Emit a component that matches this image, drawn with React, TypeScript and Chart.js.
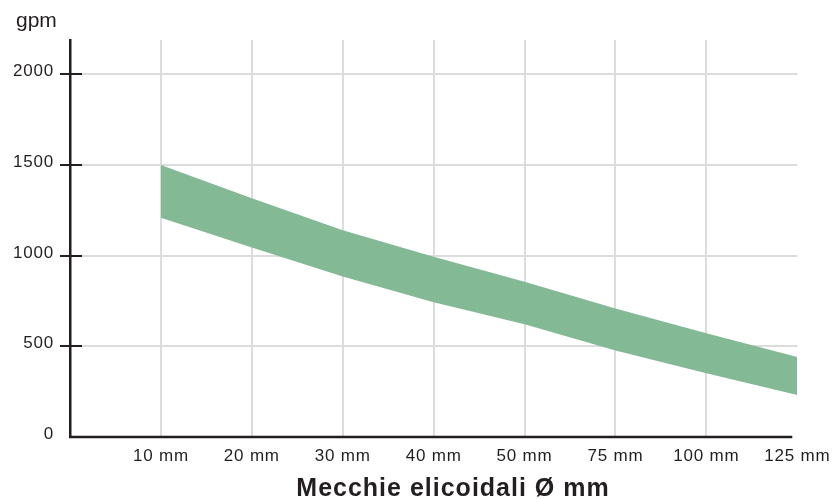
import { useEffect, useRef } from 'react';
import { Chart, registerables } from 'chart.js';

Chart.register(...registerables);

const categories = ['10 mm', '20 mm', '30 mm', '40 mm', '50 mm', '75 mm', '100 mm', '125 mm'];
const upperValues = [1500, 1317, 1141, 995, 856, 709, 573, 441];
const lowerValues = [1210, 1046, 885, 743, 622, 477, 352, 231];
const yTickValues = [0, 500, 1000, 1500, 2000];
const yAxisTitle = 'gpm';
const xAxisTitle = 'Mecchie elicoidali Ø mm';

const FONT = '"Liberation Sans", Arial, Helvetica, sans-serif';
const DARK = '#231f20';
const GRID = '#dcdcdc';
const BAND = '#83b995';

export default function App() {
  const ref = useRef<HTMLCanvasElement | null>(null);

  useEffect(() => {
    if (!ref.current) return;
    const overlay = {
      id: 'overlay',
      beforeDraw(chart: any) {
        chart.ctx.letterSpacing = '0.8px';
      },
      afterDraw(chart: any) {
        const { ctx, scales } = chart;
        const y = scales.y;
        const x = scales.x;
        ctx.save();
        // x axis line
        ctx.strokeStyle = DARK;
        ctx.lineWidth = 2.5;
        ctx.beginPath();
        ctx.moveTo(x.left - 1, y.bottom);
        ctx.lineTo(x.right - 5, y.bottom);
        ctx.stroke();
        // y tick marks crossing the axis
        ctx.lineWidth = 2;
        yTickValues.forEach((v) => {
          if (v === 0) return;
          const py = Math.round(y.getPixelForValue(v));
          ctx.beginPath();
          ctx.moveTo(x.left - 10, py);
          ctx.lineTo(x.left + 12, py);
          ctx.stroke();
        });
        // y tick labels
        ctx.fillStyle = DARK;
        ctx.letterSpacing = '0.8px';
        ctx.font = `17px ${FONT}`;
        ctx.textAlign = 'right';
        ctx.textBaseline = 'alphabetic';
        yTickValues.forEach((v) => {
          const py = y.getPixelForValue(v);
          ctx.fillText(String(v), x.left - 16, py + 2);
        });
        // titles
        ctx.letterSpacing = '0px';
        ctx.textAlign = 'left';
        ctx.font = `21px ${FONT}`;
        ctx.fillText(yAxisTitle, 16, 26.5);
        ctx.textAlign = 'center';
        ctx.letterSpacing = '1px';
        ctx.font = `bold 25px ${FONT}`;
        ctx.fillText(xAxisTitle, 453, 496);
        ctx.restore();
        ctx.letterSpacing = '0px';
      },
    };

    const chart = new Chart(ref.current, {
      type: 'line',
      data: {
        datasets: [
          {
            label: 'max',
            data: upperValues.map((v, i) => ({ x: i + 1, y: v })),
            borderColor: 'rgba(0,0,0,0)',
            borderWidth: 0,
            backgroundColor: BAND,
            pointRadius: 0,
            fill: '+1',
            tension: 0,
          },
          {
            label: 'min',
            data: lowerValues.map((v, i) => ({ x: i + 1, y: v })),
            borderColor: 'rgba(0,0,0,0)',
            borderWidth: 0,
            backgroundColor: BAND,
            pointRadius: 0,
            fill: false,
            tension: 0,
          },
        ],
      },
      options: {
        animation: false,
        responsive: true,
        maintainAspectRatio: false,
        layout: { padding: { top: 40, right: 39, bottom: 0, left: 0 } },
        plugins: { legend: { display: false }, tooltip: { enabled: false } },
        scales: {
          x: {
            type: 'linear',
            min: 0,
            max: categories.length,
            afterBuildTicks: (s: any) => {
              s.ticks = categories.map((_, i) => ({ value: i + 1 }));
            },
            afterFit: (s: any) => {
              s.height = 62;
            },
            ticks: {
              autoSkip: false,
              maxRotation: 0,
              padding: 9,
              color: DARK,
              font: { family: FONT, size: 17 },
              callback: (v: any) => categories[Number(v) - 1] ?? '',
            },
            grid: {
              drawTicks: false,
              lineWidth: 2,
              color: (c: any) => (c.tick && c.tick.value === categories.length ? 'rgba(0,0,0,0)' : GRID),
            },
            border: { display: false },
          },
          y: {
            type: 'linear',
            min: 0,
            max: 2190,
            afterBuildTicks: (s: any) => {
              s.ticks = yTickValues.map((v) => ({ value: v }));
            },
            afterFit: (s: any) => {
              s.width = 70;
            },
            ticks: { display: false },
            grid: {
              drawTicks: false,
              lineWidth: 2,
              color: (c: any) => (c.tick && c.tick.value === 0 ? 'rgba(0,0,0,0)' : GRID),
            },
            border: { display: true, color: DARK, width: 2.5 },
          },
        },
      },
      plugins: [overlay],
    });
    return () => chart.destroy();
  }, []);

  return (
    <div style={{ position: 'fixed', left: 0, top: 0, width: 837, height: 499, background: '#fff' }}>
      <canvas ref={ref} />
    </div>
  );
}
